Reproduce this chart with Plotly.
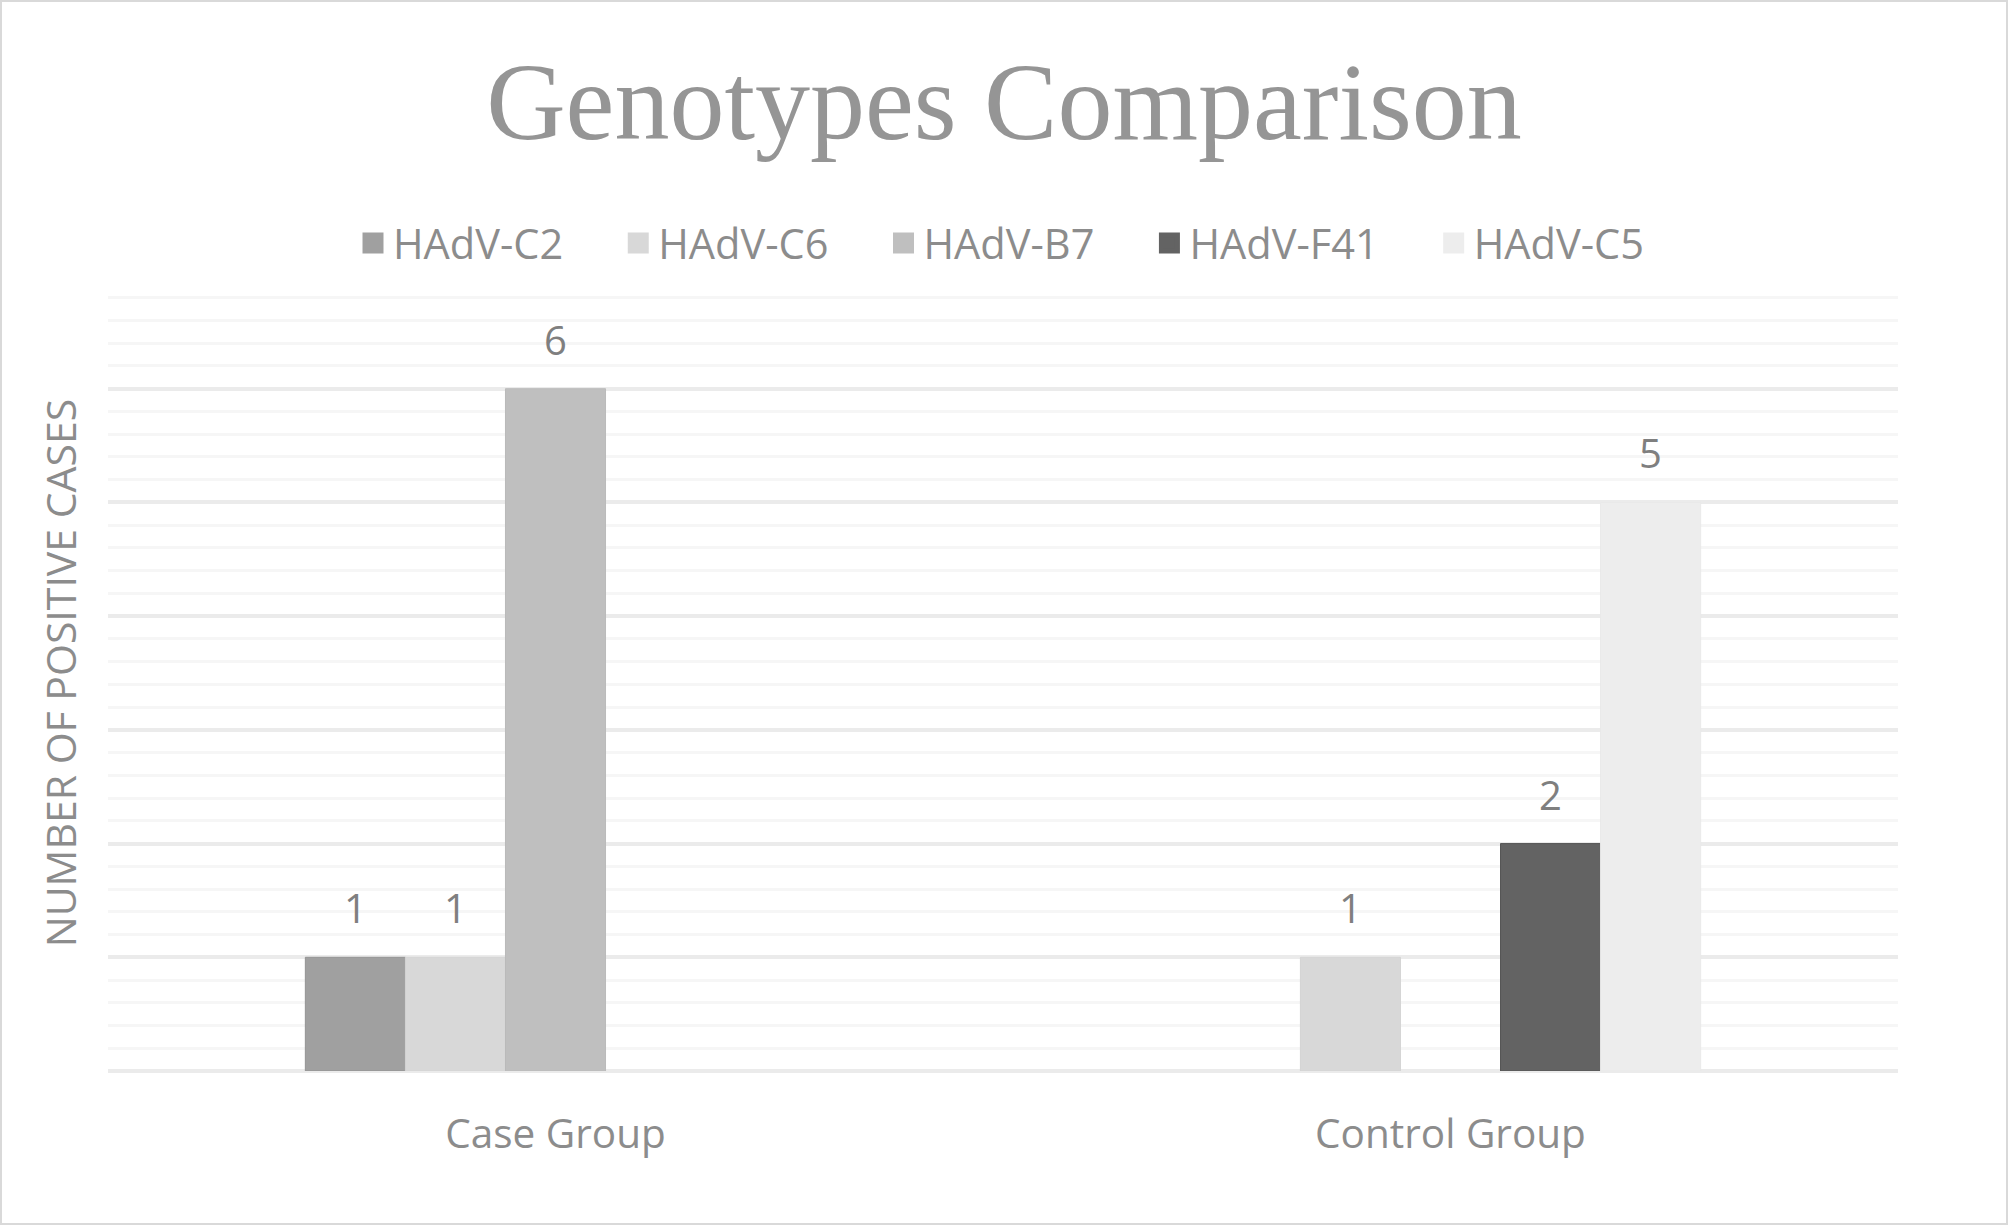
import plotly.graph_objects as go

# ---- data ----
categories = ["Case Group", "Control Group"]
series_names = ["HAdV-C2", "HAdV-C6", "HAdV-B7", "HAdV-F41", "HAdV-C5"]
hadv_c2 = [1, None]
hadv_c6 = [1, 1]
hadv_b7 = [6, None]
hadv_f41 = [None, 2]
hadv_c5 = [None, 5]
series_values = [hadv_c2, hadv_c6, hadv_b7, hadv_f41, hadv_c5]

# ---- style ----
fill_colors = ["#a0a0a0", "#d8d8d8", "#bfbfbf", "#636363", "#ededed"]
edge_colors = ["#939393", "#d4d4d4", "#bababa", "#555555", "#e9e9e9"]
W, H = 2008, 1225
L, R, T, B = 108, 110, 275, 154
PW, PH = W - L - R, H - T - B
BARGAP = 0.441
TEXT_GREY = "#8c8c8c"
LABEL_GREY = "#7f7f7f"
FONT = "Open Sans"
PAD = "&nbsp;" * 4 + "&#8198;"

fig = go.Figure()
n = len(series_names)
for j, (name, vals) in enumerate(zip(series_names, series_values)):
    fig.add_trace(go.Bar(
        x=categories, y=vals, name=name, showlegend=False,
        marker=dict(color=fill_colors[j], line=dict(color=edge_colors[j], width=1)),
        hoverinfo="x+y+name",
    ))
# legend entries (larger square symbols)
for j, name in enumerate(series_names):
    fig.add_trace(go.Scatter(
        x=[None], y=[None], mode="markers", name=name + PAD,
        marker=dict(symbol="square", size=16, color=fill_colors[j],
                    line=dict(color=fill_colors[j], width=5)),
        showlegend=True, hoverinfo="skip",
    ))

# data labels above bars
annotations = []
slot = (1 - BARGAP) / n
for j, vals in enumerate(series_values):
    for i, v in enumerate(vals):
        if v is None:
            continue
        annotations.append(dict(
            x=i + (j - (n - 1) / 2) * slot, y=v, xref="x", yref="y",
            text=str(v), showarrow=False, yanchor="bottom", yshift=20,
            font=dict(family=FONT, size=40, color=LABEL_GREY),
        ))

fig.update_layout(
    width=W, height=H,
    margin=dict(l=L, r=R, t=T, b=B, autoexpand=False),
    paper_bgcolor="white", plot_bgcolor="white",
    barmode="group", bargap=BARGAP, bargroupgap=0,
    title=dict(text="Genotypes Comparison", x=0.5, xanchor="center",
               y=1 - 100 / H, yanchor="middle", yref="container",
               font=dict(family="Liberation Serif", size=110, color="#959595")),
    legend=dict(orientation="h", x=(353 - L) / PW, xanchor="left",
                y=1 + (T - 243) / PH, yanchor="middle",
                font=dict(family=FONT, size=41.5, color=TEXT_GREY),
                itemsizing="trace", bgcolor="rgba(0,0,0,0)"),
    xaxis=dict(type="category", showgrid=False, showline=False, ticks="",
               tickfont=dict(family=FONT, size=40.5, color=TEXT_GREY),
               ticklabelstandoff=35, zeroline=False),
    yaxis=dict(range=[0, 7], dtick=1, showticklabels=False, ticks="",
               showgrid=True, gridcolor="#ebebeb", gridwidth=3.5,
               zeroline=True, zerolinecolor="#ebebeb", zerolinewidth=3.5,
               minor=dict(dtick=0.2, showgrid=True, gridcolor="#f6f6f6", gridwidth=3),
               title=dict(text="NUMBER OF POSITIVE CASES", standoff=17,
                          font=dict(family=FONT, size=41, color=TEXT_GREY))),
    annotations=annotations,
    shapes=[dict(type="rect", xref="paper", yref="paper",
                 x0=-(L - 1) / PW, x1=1 + (R - 1) / PW,
                 y0=-(B - 1) / PH, y1=1 + (T - 1) / PH,
                 line=dict(color="#d9d9d9", width=2), layer="below")],
    showlegend=True,
)

fig.write_html("out.html", config={"displayModeBar": False},
               post_script="document.body.style.margin='0';")
